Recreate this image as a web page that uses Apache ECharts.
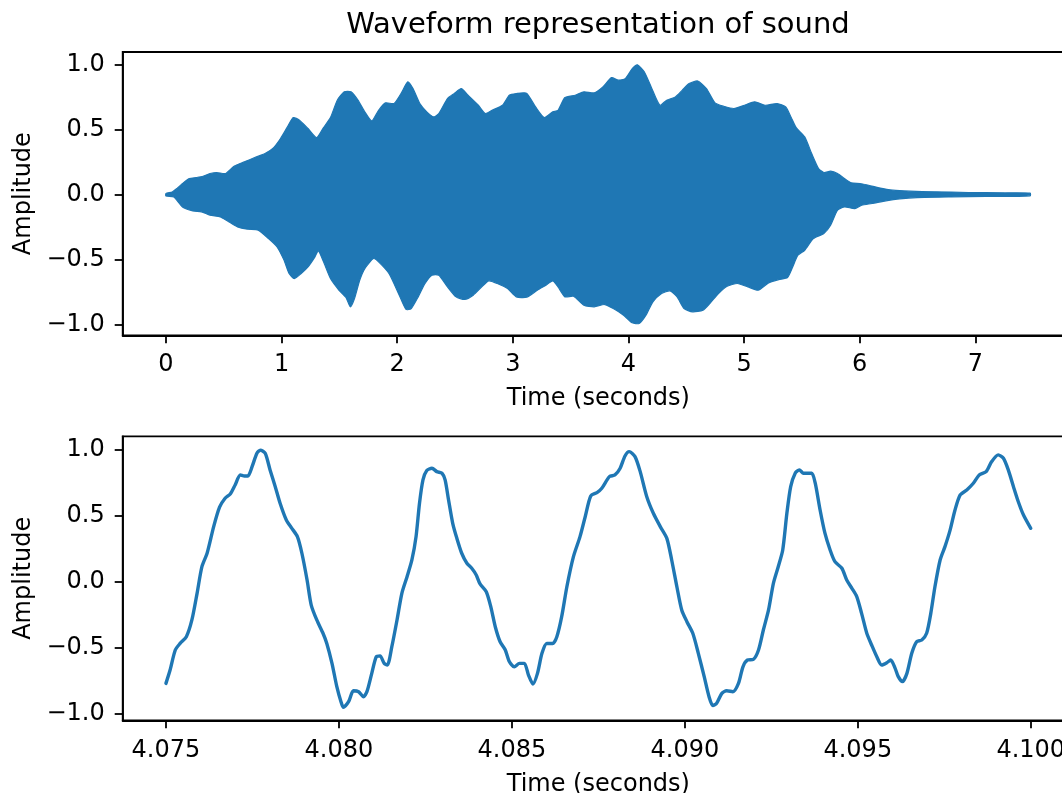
<!DOCTYPE html>
<html>
<head>
<meta charset="utf-8">
<title>Waveform representation of sound</title>
<script src="https://cdn.jsdelivr.net/npm/echarts@6.0.0/dist/echarts.min.js"></script>
<style>
  html, body {
    margin: 0;
    padding: 0;
    background: #ffffff;
    overflow: hidden;
  }
  /* the right edge of the axes box is cut off in the original figure */
  #chart {
    width: 1090px;
    height: 793px;
  }
</style>
</head>
<body>
<div id="chart"></div>
<script>
// 上图：波形包络（上沿 / 下沿），秒
const upperTime = [0.000, 0.054, 0.098, 0.143, 0.202, 0.262, 0.321, 0.381, 0.440, 0.515, 0.589, 0.679, 0.768, 0.857, 0.932, 0.991,
  1.051, 1.101, 1.155, 1.229, 1.304, 1.363, 1.423, 1.482, 1.542, 1.601, 1.661, 1.720, 1.780, 1.839, 1.899, 1.973,
  2.033, 2.092, 2.137, 2.196, 2.256, 2.315, 2.360, 2.435, 2.494, 2.554, 2.613, 2.702, 2.762, 2.821, 2.911, 2.970,
  3.030, 3.119, 3.197, 3.272, 3.346, 3.391, 3.451, 3.540, 3.615, 3.704, 3.779, 3.854, 3.913, 3.973,
  4.033, 4.078, 4.137, 4.197, 4.272, 4.331, 4.406, 4.466, 4.525, 4.600, 4.675, 4.749, 4.824, 4.913,
  5.003, 5.093, 5.182, 5.287, 5.361, 5.406, 5.451, 5.525, 5.585, 5.645, 5.690, 5.749, 5.809, 5.869, 5.928,
  6.003, 6.078, 6.167, 6.287, 6.436, 6.645, 6.943, 7.242, 7.475];
const upperAmp = [0.010, 0.020, 0.050, 0.086, 0.124, 0.132, 0.142, 0.163, 0.171, 0.163, 0.219, 0.253, 0.286, 0.317, 0.363, 0.432,
  0.522, 0.594, 0.574, 0.510, 0.440, 0.517, 0.594, 0.728, 0.792, 0.792, 0.728, 0.638, 0.568, 0.650, 0.707, 0.702,
  0.779, 0.869, 0.817, 0.702, 0.638, 0.599, 0.625, 0.740, 0.779, 0.817, 0.766, 0.689, 0.625, 0.650, 0.689, 0.766,
  0.779, 0.782, 0.676, 0.594, 0.638, 0.650, 0.748, 0.766, 0.792, 0.784, 0.830, 0.902, 0.882, 0.894,
  0.971, 1.000, 0.946, 0.830, 0.689, 0.728, 0.753, 0.805, 0.856, 0.876, 0.817, 0.707, 0.681, 0.664,
  0.689, 0.715, 0.689, 0.702, 0.676, 0.599, 0.517, 0.445, 0.317, 0.201, 0.171, 0.181, 0.163, 0.124, 0.091,
  0.086, 0.073, 0.053, 0.035, 0.027, 0.022, 0.017, 0.014, 0.012];

const lowerTime = [0.000, 0.068, 0.143, 0.232, 0.307, 0.381, 0.470, 0.530, 0.619, 0.708, 0.798, 0.887, 0.961,
  1.021, 1.065, 1.110, 1.170, 1.229, 1.289, 1.318, 1.363, 1.423, 1.497, 1.557, 1.595, 1.631, 1.676, 1.720, 1.795, 1.839, 1.929,
  2.018, 2.077, 2.122, 2.182, 2.241, 2.301, 2.360, 2.435, 2.509, 2.583, 2.658, 2.732, 2.792, 2.866, 2.955,
  3.030, 3.119, 3.212, 3.287, 3.346, 3.391, 3.451, 3.525, 3.615, 3.704, 3.794, 3.869, 3.958,
  4.033, 4.093, 4.152, 4.212, 4.287, 4.361, 4.421, 4.481, 4.555, 4.645, 4.704, 4.779, 4.854, 4.943,
  5.033, 5.122, 5.212, 5.301, 5.376, 5.421, 5.466, 5.525, 5.600, 5.690, 5.749, 5.809, 5.869, 5.958,
  6.018, 6.107, 6.227, 6.346, 6.496, 6.794, 7.093, 7.475];
const lowerAmp = [-0.010, -0.017, -0.094, -0.125, -0.132, -0.158, -0.171, -0.201, -0.248, -0.266, -0.273, -0.338, -0.402,
  -0.504, -0.607, -0.646, -0.607, -0.556, -0.479, -0.432, -0.517, -0.646, -0.736, -0.792, -0.864, -0.800, -0.659, -0.569, -0.492, -0.517, -0.607,
  -0.774, -0.884, -0.877, -0.787, -0.684, -0.620, -0.620, -0.710, -0.787, -0.807, -0.774, -0.710, -0.664, -0.684, -0.723,
  -0.787, -0.790, -0.736, -0.697, -0.664, -0.710, -0.787, -0.782, -0.851, -0.864, -0.846, -0.877, -0.928,
  -0.987, -0.992, -0.928, -0.825, -0.761, -0.741, -0.787, -0.877, -0.902, -0.890, -0.838, -0.761, -0.705, -0.684,
  -0.710, -0.736, -0.679, -0.654, -0.638, -0.556, -0.466, -0.428, -0.338, -0.299, -0.235, -0.119, -0.094, -0.107,
  -0.081, -0.068, -0.047, -0.032, -0.022, -0.017, -0.014, -0.009];

// 下图：4.075 ~ 4.100 s 片段
const zoomTime = [4.07500, 4.07512, 4.07527, 4.07541, 4.07559, 4.07575, 4.07590, 4.07604, 4.07619, 4.07638, 4.07655, 4.07671,
  4.07686, 4.07700, 4.07715, 4.07727, 4.07737, 4.07749, 4.07763, 4.07773, 4.07787, 4.07801, 4.07816, 4.07830,
  4.07848, 4.07864, 4.07880, 4.07893, 4.07908, 4.07920, 4.07936, 4.07954, 4.07965, 4.07980, 4.07994, 4.08006,
  4.08013, 4.08028, 4.08042, 4.08057, 4.08071, 4.08081, 4.08095, 4.08108, 4.08119, 4.08131, 4.08140, 4.08153,
  4.08168, 4.08182, 4.08197, 4.08211, 4.08223, 4.08233, 4.08243, 4.08254, 4.08269, 4.08283, 4.08298, 4.08307,
  4.08317, 4.08329, 4.08341, 4.08355, 4.08370, 4.08384, 4.08397, 4.08408, 4.08426, 4.08439, 4.08452, 4.08466,
  4.08481, 4.08493, 4.08507, 4.08522, 4.08536, 4.08548, 4.08561, 4.08574, 4.08587, 4.08601, 4.08618, 4.08630,
  4.08644, 4.08659, 4.08678, 4.08697, 4.08712, 4.08728, 4.08746, 4.08760, 4.08782, 4.08798, 4.08813, 4.08827,
  4.08839, 4.08856, 4.08871, 4.08890, 4.08909, 4.08929, 4.08948, 4.08962, 4.08977, 4.08991, 4.09006, 4.09023,
  4.09039, 4.09056, 4.09070, 4.09081, 4.09092, 4.09107, 4.09121, 4.09139, 4.09155, 4.09168, 4.09181, 4.09198,
  4.09213, 4.09227, 4.09242, 4.09256, 4.09270, 4.09283, 4.09295, 4.09306, 4.09319, 4.09331, 4.09343, 4.09354,
  4.09367, 4.09377, 4.09391, 4.09405, 4.09420, 4.09434, 4.09454, 4.09468, 4.09483, 4.09497, 4.09511, 4.09526,
  4.09540, 4.09555, 4.09569, 4.09584, 4.09595, 4.09608, 4.09617, 4.09629, 4.09642, 4.09656, 4.09670, 4.09685,
  4.09699, 4.09711, 4.09723, 4.09738, 4.09752, 4.09767, 4.09781, 4.09796, 4.09815, 4.09834, 4.09851, 4.09871,
  4.09887, 4.09906, 4.09921, 4.09935, 4.09950, 4.09964, 4.09979, 4.10000];
const zoomAmp = [-0.769, -0.668, -0.516, -0.466, -0.415, -0.288, -0.086, 0.116, 0.218, 0.420, 0.567, 0.635,
  0.668, 0.736, 0.812, 0.804, 0.804, 0.875, 0.976, 1.000, 0.976, 0.850, 0.723, 0.597,
  0.470, 0.407, 0.344, 0.218, 0.015, -0.175, -0.288, -0.389, -0.466, -0.617, -0.794, -0.908,
  -0.951, -0.908, -0.825, -0.832, -0.870, -0.832, -0.693, -0.567, -0.561, -0.617, -0.630, -0.491,
  -0.288, -0.086, 0.040, 0.167, 0.344, 0.597, 0.774, 0.845, 0.863, 0.837, 0.825, 0.774,
  0.622, 0.445, 0.331, 0.218, 0.142, 0.104, 0.053, -0.015, -0.074, -0.187, -0.339, -0.453,
  -0.516, -0.605, -0.643, -0.617, -0.617, -0.706, -0.774, -0.693, -0.541, -0.466, -0.466, -0.415,
  -0.263, -0.036, 0.192, 0.344, 0.495, 0.653, 0.678, 0.711, 0.799, 0.812, 0.863, 0.956,
  0.989, 0.951, 0.837, 0.647, 0.521, 0.420, 0.331, 0.167, -0.036, -0.212, -0.301, -0.389,
  -0.541, -0.718, -0.870, -0.938, -0.920, -0.845, -0.825, -0.832, -0.769, -0.643, -0.592, -0.587,
  -0.516, -0.364, -0.212, -0.010, 0.116, 0.243, 0.521, 0.723, 0.825, 0.850, 0.825, 0.825,
  0.825, 0.749, 0.546, 0.370, 0.243, 0.154, 0.104, 0.015, -0.048, -0.111, -0.238, -0.389,
  -0.478, -0.567, -0.630, -0.612, -0.592, -0.655, -0.718, -0.756, -0.693, -0.541, -0.453, -0.440,
  -0.389, -0.238, -0.036, 0.167, 0.268, 0.395, 0.546, 0.660, 0.698, 0.749, 0.812, 0.837,
  0.913, 0.964, 0.938, 0.850, 0.723, 0.609, 0.508, 0.407];

// 刻度
const topXTicks = [0, 1, 2, 3, 4, 5, 6, 7];
const bottomXTicks = [4.075, 4.080, 4.085, 4.090, 4.095, 4.100];
const ampTicks = [-1.0, -0.5, 0.0, 0.5, 1.0];

const BLUE = '#1f77b4';
const FONT = 'DejaVu Sans';
const FS = 24;

function pairs(xs, ys) {
  return xs.map((x, i) => [x, ys[i]]);
}
function ampLabel(v) {
  return (v < 0 ? '\u2212' : '') + Math.abs(v).toFixed(1);
}

function xAxisCfg(gridIndex, min, max, ticks, fmt, nameGap, labelMargin) {
  return {
    type: 'value',
    gridIndex: gridIndex,
    min: min,
    max: max,
    name: 'Time (seconds)',
    nameLocation: 'middle',
    nameGap: nameGap,
    nameTextStyle: { fontFamily: FONT, fontSize: FS, color: '#000' },
    axisLine: { show: true, onZero: false, lineStyle: { color: '#000', width: 1.8 } },
    axisTick: { show: true, length: 8, customValues: ticks, lineStyle: { color: '#000', width: 1.8 } },
    axisLabel: {
      customValues: ticks,
      formatter: fmt,
      margin: labelMargin,
      fontFamily: FONT,
      fontSize: FS,
      color: '#000'
    },
    splitLine: { show: false }
  };
}

function yAxisCfg(gridIndex, min, max) {
  return {
    type: 'value',
    gridIndex: gridIndex,
    min: min,
    max: max,
    name: 'Amplitude',
    nameLocation: 'middle',
    nameGap: 85,
    nameRotate: 90,
    nameTextStyle: { fontFamily: FONT, fontSize: FS, color: '#000' },
    axisLine: { show: true, onZero: false, lineStyle: { color: '#000', width: 1.8 } },
    axisTick: { show: true, length: 8, customValues: ampTicks, lineStyle: { color: '#000', width: 1.8 } },
    axisLabel: {
      customValues: ampTicks,
      formatter: ampLabel,
      margin: 18,
      fontFamily: FONT,
      fontSize: FS,
      color: '#000'
    },
    splitLine: { show: false }
  };
}

// 上沿正向 + 下沿反向 -> 一个闭合多边形
function renderEnvelope(params, api) {
  const pts = upperTime.map((t, i) => api.coord([t, upperAmp[i]]));
  for (let i = lowerTime.length - 1; i >= 0; i--) {
    pts.push(api.coord([lowerTime[i], lowerAmp[i]]));
  }
  return {
    type: 'polygon',
    shape: { points: pts, smooth: 0.2 },
    style: { fill: BLUE, stroke: BLUE, lineWidth: 1.2 }
  };
}

const myChart = echarts.init(document.getElementById('chart'), null, { renderer: 'canvas' });

const option = {
  animation: false,
  backgroundColor: '#ffffff',
  title: {
    text: 'Waveform representation of sound',
    left: 598,
    top: 10.5,
    padding: 0,
    textAlign: 'center',
    textStyle: { fontFamily: FONT, fontSize: 29, fontWeight: 'normal', color: '#000' }
  },
  grid: [
    {
      left: 122.7, top: 52, width: 951.3, height: 283.3,
      outerBoundsMode: 'none',
      show: true, borderColor: '#000', borderWidth: 1.8, backgroundColor: 'transparent'
    },
    {
      left: 122.7, top: 436.3, width: 951.3, height: 284,
      outerBoundsMode: 'none',
      show: true, borderColor: '#000', borderWidth: 1.8, backgroundColor: 'transparent'
    }
  ],
  xAxis: [
    xAxisCfg(0, -0.374, 7.854, topXTicks, v => String(v), 51, 17),
    xAxisCfg(1, 4.07375, 4.10125, bottomXTicks, v => v.toFixed(3), 52.5, 18.5)
  ],
  yAxis: [
    yAxisCfg(0, -1.083, 1.099),
    yAxisCfg(1, -1.049, 1.105)
  ],
  series: [
    {
      type: 'custom',
      coordinateSystem: 'cartesian2d',
      xAxisIndex: 0,
      yAxisIndex: 0,
      data: [[0, 0]],
      renderItem: renderEnvelope,
      clip: true
    },
    {
      type: 'line',
      xAxisIndex: 1,
      yAxisIndex: 1,
      data: pairs(zoomTime, zoomAmp),
      showSymbol: false,
      smooth: 0.25,
      lineStyle: { color: BLUE, width: 3.4, cap: 'round', join: 'round' }
    }
  ]
};

myChart.setOption(option, true);
</script>
</body>
</html>
